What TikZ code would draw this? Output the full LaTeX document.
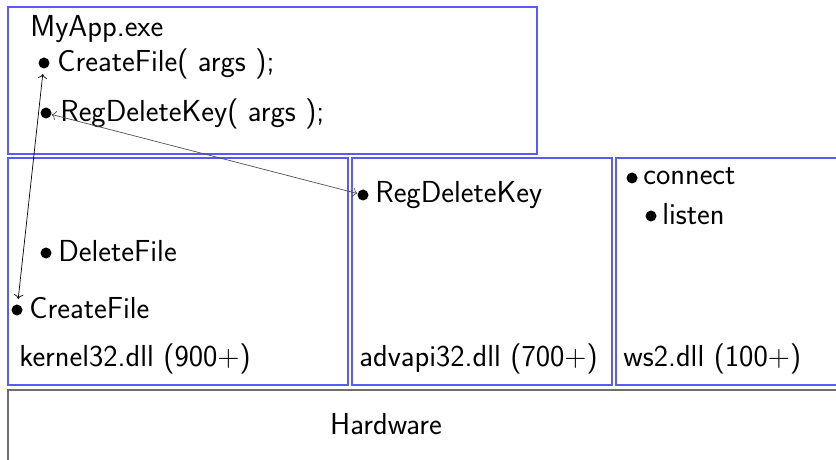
\documentclass[tikz,border=0pt]{standalone}
\definecolor{boxBlue}{HTML}{5A5AF5}
\definecolor{hwGray}{HTML}{6E6E6E}
\definecolor{linkGray}{HTML}{505050}
\usepackage{tikz}
\usetikzlibrary{calc,positioning,arrows.meta}

\tikzset{
  bul/.style={circle, fill=black, inner sep=0pt, minimum size=0.22cm},
  lbl/.style={anchor=base west, inner sep=0pt, font=\fontsize{17.3}{20}\selectfont\sffamily},
}

\begin{document}
\begin{tikzpicture}
  \useasboundingbox (0,0) rectangle (16.72,9.18);
  \clip (0,0) rectangle (16.72,9.18);

  % Boxes
  \draw[boxBlue, thick] (0.16,6.10) rectangle (10.74,9.04);
  \draw[boxBlue, thick] (0.16,1.48) rectangle (6.96,6.02);
  \draw[boxBlue, thick] (7.04,1.48) rectangle (12.24,6.02);
  \draw[boxBlue, thick] (12.32,1.48) rectangle (17.50,6.02);
  \draw[hwGray, thick] (0.16,-1.00) rectangle (17.50,1.38);

  % MyApp.exe
  \node[lbl] (app) at (0.60,8.44) {MyApp.exe};
  \node[bul] (appCF) at (0.88,7.92) {};
  \node[lbl] (appCFt) at (1.14,7.74) {CreateFile( args );};
  \node[bul] (appRDK) at (0.92,6.92) {};
  \node[lbl] (appRDKt) at (1.20,6.74) {RegDeleteKey( args );};

  % kernel32.dll
  \node[bul] (kerDF) at (0.92,4.12) {};
  \node[lbl] (kerDFt) at (1.16,3.94) {DeleteFile};
  \node[bul] (kerCF) at (0.34,2.98) {};
  \node[lbl] (kerCFt) at (0.58,2.80) {CreateFile};
  \node[lbl] (ker) at (0.38,1.86) {kernel32.dll (900+)};

  % advapi32.dll
  \node[bul] (advRDK) at (7.26,5.28) {};
  \node[lbl] (advRDKt) at (7.50,5.12) {RegDeleteKey};
  \node[lbl] (adv) at (7.18,1.86) {advapi32.dll (700+)};

  % ws2.dll
  \node[bul] (wsCon) at (12.64,5.62) {};
  \node[lbl] (wsCont) at (12.86,5.48) {connect};
  \node[bul] (wsLis) at (13.02,4.86) {};
  \node[lbl] (wsList) at (13.24,4.68) {listen};
  \node[lbl] (ws) at (12.46,1.86) {ws2.dll (100+)};

  % Hardware
  \node[lbl, anchor=base] (hw) at (7.72,0.50) {Hardware};

  % Calls
  \draw[{To}-{To}, shorten <=3pt, shorten >=3pt] (kerCF) -- (appCF);
  \draw[linkGray, {To}-{To}] (advRDK) -- (appRDK);

\end{tikzpicture}
\end{document}
